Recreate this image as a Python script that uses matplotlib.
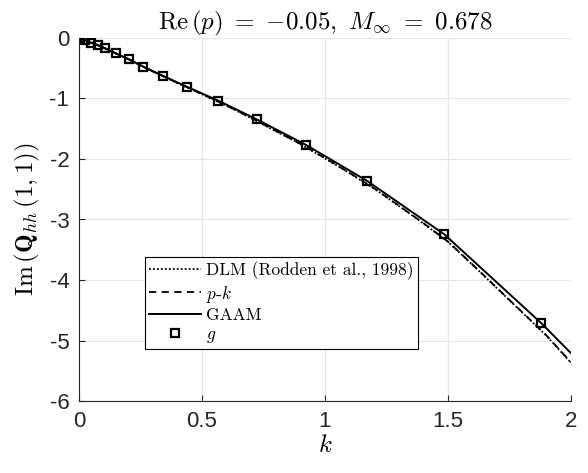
import matplotlib
matplotlib.use('Agg')
import matplotlib.pyplot as plt

plt.rcParams['mathtext.fontset'] = 'cm'
plt.rcParams['axes.unicode_minus'] = False
plt.rcParams['font.family'] = ['Liberation Sans', 'DejaVu Sans']

# reduced frequencies and Im(Q_hh(1,1)) for the g-method points
k_g = [0.005, 0.025, 0.05, 0.078, 0.106, 0.15, 0.203, 0.261, 0.343, 0.438,
       0.566, 0.722, 0.923, 1.17, 1.485, 1.88]
q_g = [0.0, -0.035, -0.078, -0.118, -0.17, -0.255, -0.352, -0.474, -0.628, -0.805,
       -1.036, -1.344, -1.768, -2.359, -3.245, -4.716]

# GAAM curve
k_gaam = [0.0, 0.025, 0.05, 0.078, 0.106, 0.15, 0.203, 0.261, 0.343, 0.438,
          0.566, 0.722, 0.923, 1.17, 1.485, 1.88, 2.0]
q_gaam = [0.0, -0.035, -0.078, -0.118, -0.17, -0.255, -0.352, -0.474, -0.628, -0.805,
          -1.036, -1.344, -1.768, -2.359, -3.245, -4.716, -5.21]

# DLM reference and p-k results
k_ref = [0.0, 0.1, 0.2, 0.3, 0.4, 0.5, 0.6, 0.7, 0.8, 0.9, 1.0,
         1.1, 1.2, 1.3, 1.4, 1.5, 1.6, 1.7, 1.8, 1.9, 2.0]
q_dlm = [0.0, -0.16, -0.35, -0.555, -0.745, -0.93, -1.12, -1.325, -1.54, -1.755, -1.99,
         -2.235, -2.49, -2.775, -3.065, -3.37, -3.75, -4.14, -4.53, -4.92, -5.37]
q_pk = [0.0, -0.16, -0.348, -0.552, -0.742, -0.926, -1.116, -1.32, -1.535, -1.75, -1.985,
        -2.23, -2.485, -2.77, -3.06, -3.365, -3.745, -4.135, -4.525, -4.915, -5.36]

xticks = [0, 0.5, 1, 1.5, 2]
xticklabels = ['0', '0.5', '1', '1.5', '2']
yticks = [0, -1, -2, -3, -4, -5, -6]
yticklabels = ['0', '-1', '-2', '-3', '-4', '-5', '-6']

fig = plt.figure(figsize=(5.88, 4.73), dpi=100)
ax = fig.add_axes([79 / 588, 72 / 473, 492 / 588, 363 / 473])

ax.plot(k_ref, q_dlm, color='black', linestyle=(0, (1, 1.2)), lw=1.3,
        label=r'DLM (Rodden et al., 1998)')
ax.plot(k_ref, q_pk, color='black', linestyle=(0, (4, 3)), lw=1.3, label=r'$p$-$k$')
ax.plot(k_gaam, q_gaam, color='black', linestyle='-', lw=1.4, label='GAAM')
ax.plot(k_g, q_g, linestyle='none', marker='s', markersize=6, markerfacecolor='none',
        markeredgecolor='black', markeredgewidth=1.6, label=r'$g$')

ax.set_xlim(0, 2)
ax.set_ylim(-6, 0)
ax.set_xticks(xticks)
ax.set_xticklabels(xticklabels)
ax.set_yticks(yticks)
ax.set_yticklabels(yticklabels)
ax.tick_params(direction='in', length=4, width=0.8, colors='#262626', labelsize=16, pad=7)
ax.grid(True, color='#e6e6e6', lw=0.9)
ax.set_axisbelow(True)
for side in ['top', 'right']:
    ax.spines[side].set_visible(False)
for side in ['left', 'bottom']:
    ax.spines[side].set_color('#262626')
    ax.spines[side].set_linewidth(0.8)

ax.set_title(r'$\mathrm{Re}\,(p)\ =\ {-}0.05,\ M_\infty\ =\ 0.678$', fontsize=18, pad=5)
ax.set_xlabel(r'$k$', fontsize=18, labelpad=1)
ax.set_ylabel(r'$\mathrm{Im}\,(\mathbf{Q}_{hh}\,(1,1))$', fontsize=18, labelpad=5)

leg = ax.legend(loc='upper left', bbox_to_anchor=(145 / 588, 1 - 257 / 473),
                bbox_transform=fig.transFigure, prop={'family': 'cmr10', 'size': 12.5},
                frameon=True, fancybox=False, edgecolor='black', framealpha=1,
                handlelength=3.0, handletextpad=0.25, labelspacing=0.2,
                borderpad=0.25, borderaxespad=0)
leg.get_frame().set_linewidth(0.8)

fig.savefig('out.png', dpi=100)
